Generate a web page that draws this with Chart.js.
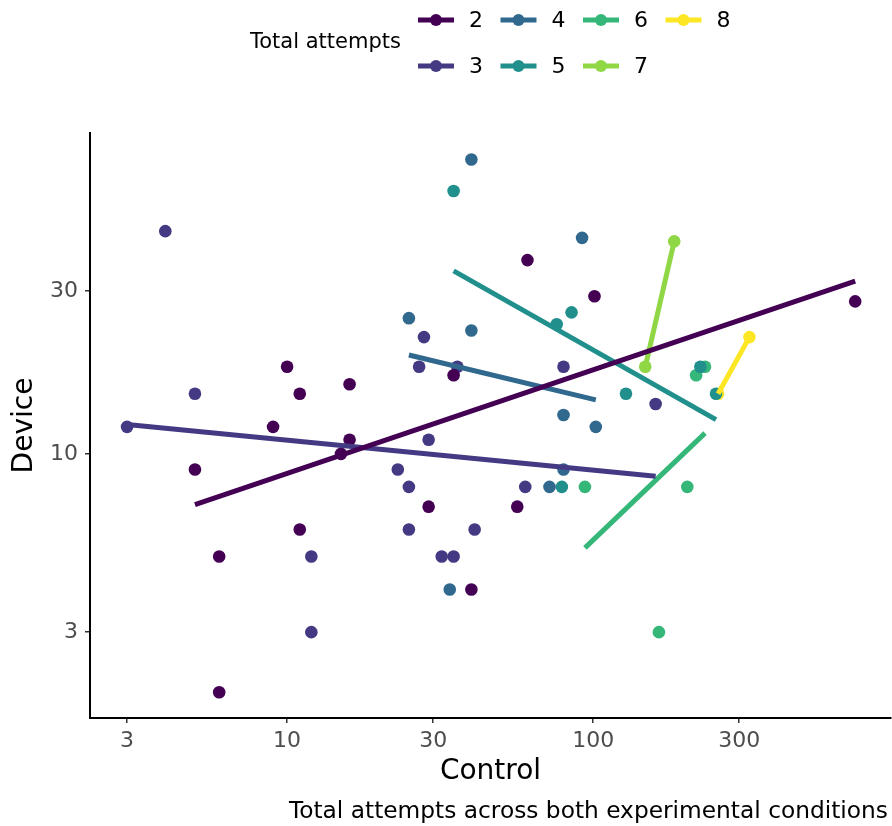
<!DOCTYPE html>
<html>
<head>
<meta charset="utf-8">
<script src="https://cdn.jsdelivr.net/npm/chart.js@4.4.1/dist/chart.umd.min.js"></script>
<style>
  html, body { margin: 0; padding: 0; background: #fff; }
</style>
</head>
<body>
<canvas id="chart" width="892" height="826"></canvas>
<script>
const groups = ['2', '3', '4', '5', '6', '7', '8'];
const colors = ['#440154', '#443A83', '#31688E', '#21908C', '#35B779', '#8FD744', '#FDE725'];

const xTicks = [3, 10, 30, 100, 300];
const yTicks = [3, 10, 30];

// attempts under Control (x) and Device (y), one pair of arrays per group
const control2 = [10, 11, 16, 9, 16, 15, 5, 11, 6, 6, 29, 56.5, 40, 35, 61, 101, 718];
const device2  = [18, 15, 16, 12, 11, 10, 9, 6, 5, 2, 7, 7, 4, 17, 37, 29, 28];
const control3 = [4, 5, 3, 12, 12, 28, 27, 36, 29, 23, 25, 25, 41, 32, 35, 60, 80, 160];
const device3  = [45, 15, 12, 5, 3, 22, 18, 18, 11, 9, 8, 6, 6, 5, 5, 8, 18, 14];
const control4 = [40, 92, 25, 40, 80, 102, 72, 34, 80];
const device4  = [73, 43, 25, 23, 13, 12, 8, 4, 9];
const control5 = [35, 85, 76, 128, 79, 252, 224];
const device5  = [59, 26, 24, 15, 8, 15, 18];
const control6 = [94, 203, 164, 232, 217];
const device6  = [8, 8, 3, 18, 17];
const control7 = [148, 184];
const device7  = [18, 42];
const control8 = [256, 324];
const device8  = [15, 22];

// fitted lines (log-log lm), start and end of each
const fitControl = [[5, 718], [3, 160], [25, 102], [35, 252], [94, 232], [148, 184], [256, 324]];
const fitDevice  = [[7.1, 32.1], [12.2, 8.6], [19.5, 14.4], [34.4, 12.6], [5.3, 11.5], [18, 42], [15, 22]];

const controls = [control2, control3, control4, control5, control6, control7, control8];
const devices  = [device2, device3, device4, device5, device6, device7, device8];

const FONT = '"DejaVu Sans", sans-serif';

const pts = (xs, ys) => xs.map((x, i) => ({ x: x, y: ys[i] }));

const datasets = [];
groups.forEach((g, i) => {
    datasets.push({
        label: g,
        data: pts(controls[i], devices[i]),
        backgroundColor: colors[i],
        borderWidth: 0,
        pointRadius: 6.3,
        order: 2
    });
    datasets.push({
        label: g + ' fit',
        data: pts(fitControl[i], fitDevice[i]),
        showLine: true,
        borderColor: colors[i],
        borderWidth: 5,
        pointRadius: 0,
        fill: false,
        order: 1
    });
});

const ggExtras = {
    id: 'ggExtras',
    afterDraw(chart) {
        const ctx = chart.ctx;
        ctx.save();
        ctx.textBaseline = 'middle';
        ctx.textAlign = 'left';
        ctx.fillStyle = '#000';
        ctx.font = '21px ' + FONT;
        ctx.fillText('Total attempts', 250, 43);

        groups.forEach((g, i) => {
            const col = Math.floor(i / 2);
            const x0 = 418 + col * 82.5;
            const y0 = i % 2 ? 66 : 20;
            ctx.strokeStyle = colors[i];
            ctx.lineWidth = 5;
            ctx.beginPath();
            ctx.moveTo(x0, y0);
            ctx.lineTo(x0 + 36, y0);
            ctx.stroke();
            ctx.fillStyle = colors[i];
            ctx.beginPath();
            ctx.arc(x0 + 18, y0, 6, 0, 2 * Math.PI);
            ctx.fill();
            ctx.fillStyle = '#000';
            ctx.font = '22px ' + FONT;
            ctx.fillText(g, x0 + 51, y0 + 1);
        });

        ctx.textAlign = 'right';
        ctx.font = '23.3px ' + FONT;
        ctx.fillText('Total attempts across both experimental conditions', 888, 812);
        ctx.restore();
    }
};

const axisGrid = { display: true, drawOnChartArea: false, drawTicks: true, tickLength: 5, color: '#333', lineWidth: 1.5 };
const axisBorder = { display: true, color: '#000', width: 2 };
const tickFont = { family: FONT, size: 22 };

new Chart(document.getElementById('chart').getContext('2d'), {
    type: 'scatter',
    data: { datasets: datasets },
    options: {
        responsive: false,
        animation: false,
        layout: { autoPadding: false, padding: { top: 133, right: 1, bottom: 0, left: 0 } },
        plugins: { legend: { display: false }, tooltip: { enabled: false } },
        scales: {
            x: {
                type: 'logarithmic',
                min: 2.27,
                max: 940,
                grid: axisGrid,
                border: axisBorder,
                afterBuildTicks: s => { s.ticks = xTicks.map(v => ({ value: v })); },
                afterFit: s => { s.height = 108; s.paddingLeft = 0; s.paddingRight = 0; },
                ticks: { color: '#4d4d4d', font: tickFont, padding: 5, maxRotation: 0, callback: v => String(v) },
                title: { display: true, text: 'Control', color: '#000', font: { family: FONT, size: 28 }, padding: { top: 0, bottom: 37 } }
            },
            y: {
                type: 'logarithmic',
                min: 1.68,
                max: 87.3,
                grid: axisGrid,
                border: axisBorder,
                afterBuildTicks: s => { s.ticks = yTicks.map(v => ({ value: v })); },
                afterFit: s => { s.width = 90; s.paddingTop = 0; s.paddingBottom = 0; },
                ticks: { color: '#4d4d4d', font: tickFont, padding: 7, callback: v => String(v) },
                title: { display: true, text: 'Device', color: '#000', font: { family: FONT, size: 28 }, padding: { top: 8, bottom: 0 } }
            }
        }
    },
    plugins: [ggExtras]
});
</script>
</body>
</html>
